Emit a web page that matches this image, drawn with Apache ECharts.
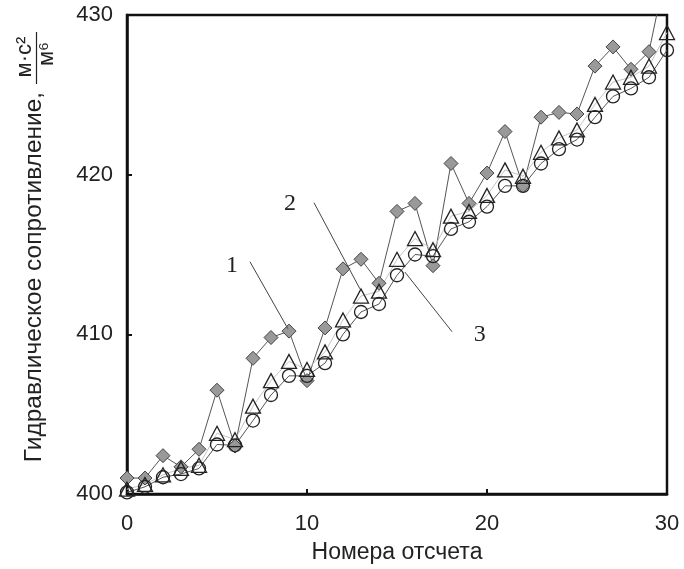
<!DOCTYPE html>
<html>
<head>
<meta charset="utf-8">
<script src="https://cdn.jsdelivr.net/npm/echarts@6/dist/echarts.min.js"></script>
<style>html,body{margin:0;padding:0;background:#fff}#c{width:684px;height:569px}</style>
</head>
<body>
<div id="c"></div>
<script>
// sample numbers 0..30
const samples = [0,1,2,3,4,5,6,7,8,9,10,11,12,13,14,15,16,17,18,19,20,21,22,23,24,25,26,27,28,29,30];
// curve 1 (filled diamonds)
const series1 = [401.0,401.0,402.4,401.7,402.8,406.5,403.0,408.5,409.8,410.2,407.1,410.4,414.1,414.7,413.2,417.7,418.2,414.3,420.7,418.2,420.1,422.7,419.3,423.6,423.9,423.8,426.8,428.0,426.6,427.7,433.1];
// curve 2 (open triangles)
const series2 = [400.3,400.6,401.2,401.6,401.8,403.8,403.4,405.5,407.1,408.3,407.8,408.9,410.9,412.4,412.7,414.7,416.0,415.3,417.4,417.7,418.7,420.3,419.9,421.4,422.3,422.8,424.4,425.8,426.1,426.8,428.9];
// curve 3 (open circles)
const series3 = [400.1,400.45,401.05,401.25,401.6,403.1,403.05,404.6,406.2,407.4,407.4,408.2,410.0,411.4,411.9,413.7,415.0,414.9,416.6,417.05,418.0,419.3,419.3,420.7,421.6,422.2,423.6,424.9,425.4,426.1,427.8];
// annotation labels and leader lines (data coordinates)
const curveLabels = ['1','2','3'];
const labelPos = [[5.83,414.3],[9.06,418.2],[19.6,409.95]];
const leaderLines = [
  [[6.83,414.55],[8.94,410.35]],
  [[10.39,418.24],[12.94,412.85]],
  [[18.06,410.16],[15.44,413.9]]
];
const xTicks = [0,10,20,30];
const yTicks = [400,410,420,430];
const xTitle = 'Номера отсчета';
const yTitle = 'Гидравлическое сопротивление,';
const yUnitNum = 'м·с²';
const yUnitDen = 'м⁶';

const toPairs = arr => arr.map((v,i)=>[samples[i], v]);
const sans = '"Liberation Sans", Arial, sans-serif';
const chart = echarts.init(document.getElementById('c'));
chart.setOption({
  animation:false,
  backgroundColor:'#fff',
  grid:{left:127,right:17,top:15,bottom:74,show:true,borderColor:'#111',borderWidth:2.5,backgroundColor:'transparent'},
  xAxis:{type:'value',min:xTicks[0],max:xTicks[xTicks.length-1],interval:10,
    name:xTitle,nameLocation:'middle',nameGap:47,
    nameTextStyle:{fontFamily:sans,fontSize:23,color:'#222'},
    axisLine:{lineStyle:{color:'#111',width:2.5}},
    axisTick:{inside:true,length:5,lineStyle:{color:'#111',width:2}},
    axisLabel:{fontFamily:sans,fontSize:22,color:'#222',margin:19},
    splitLine:{show:false}},
  yAxis:{type:'value',min:yTicks[0],max:yTicks[yTicks.length-1],interval:10,
    axisLine:{show:true,lineStyle:{color:'#111',width:2.5}},
    axisTick:{show:true,inside:true,length:5,lineStyle:{color:'#111',width:2}},
    axisLabel:{fontFamily:sans,fontSize:22,color:'#222',margin:14},
    splitLine:{show:false}},
  series:[
    {type:'line',name:'1',data:toPairs(series1),clip:true,
      symbol:'diamond',symbolSize:14,
      lineStyle:{color:'#555',width:1},
      itemStyle:{color:'#999',borderColor:'#444',borderWidth:1},
      markLine:{silent:true,symbol:'none',label:{show:false},
        lineStyle:{color:'#444',width:1,type:'solid'},
        data:leaderLines.map(l=>[{coord:l[0]},{coord:l[1]}])},
      markPoint:{silent:true,symbol:'circle',symbolSize:0,
        label:{show:true,position:'inside',fontFamily:'"Liberation Serif", "Times New Roman", serif',fontSize:24,color:'#222',formatter:p=>p.name},
        data:curveLabels.map((t,i)=>({name:t,coord:labelPos[i]}))}
    },
    {type:'line',name:'2',data:toPairs(series2),clip:true,
      symbol:'triangle',symbolSize:[15,14],
      lineStyle:{color:'#c4c4c4',width:1},
      itemStyle:{color:'rgba(255,255,255,0)',borderColor:'#222',borderWidth:1.3}},
    {type:'line',name:'3',data:toPairs(series3),clip:true,
      symbol:'circle',symbolSize:13,
      lineStyle:{color:'#555',width:1},
      itemStyle:{color:'rgba(255,255,255,0)',borderColor:'#222',borderWidth:1.3}}
  ],
  graphic:[
    {type:'text',x:34,y:277,rotation:Math.PI/2,style:{text:yTitle,font:'24.5px "Liberation Sans", Arial, sans-serif',fill:'#222',align:'center',verticalAlign:'middle'}},
    {type:'text',x:25,y:57,rotation:Math.PI/2,style:{text:yUnitNum,font:'22px "Liberation Sans", Arial, sans-serif',fill:'#222',align:'center',verticalAlign:'middle'}},
    {type:'line',shape:{x1:36.5,y1:32,x2:36.5,y2:84},style:{stroke:'#222',lineWidth:1.2}},
    {type:'text',x:47,y:54,rotation:Math.PI/2,style:{text:yUnitDen,font:'22px "Liberation Sans", Arial, sans-serif',fill:'#222',align:'center',verticalAlign:'middle'}}
  ]
});
</script>
</body>
</html>
